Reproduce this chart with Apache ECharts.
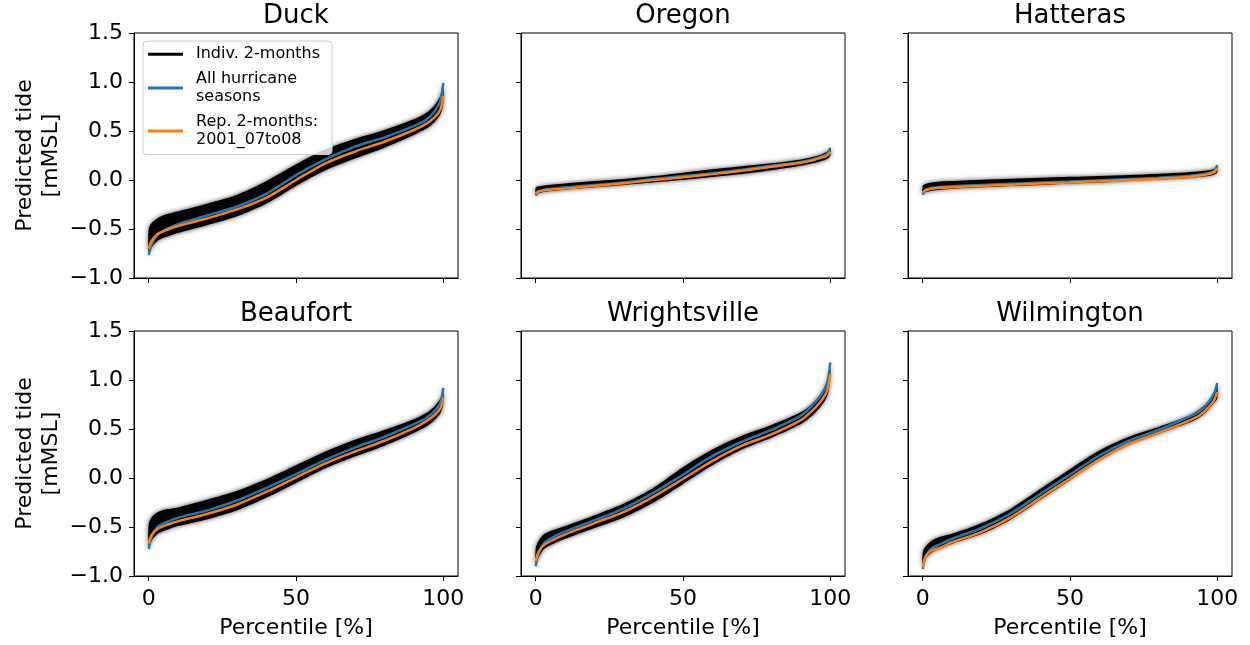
<!DOCTYPE html>
<html>
<head>
<meta charset="utf-8">
<script src="https://cdn.jsdelivr.net/npm/echarts@6/dist/echarts.min.js"></script>
<style>
  html, body { margin: 0; padding: 0; background: #fff; }
  #chart { width: 1250px; height: 645px; }
</style>
</head>
<body>
<div id="chart"></div>
<script>
// Percentile positions at which every curve is sampled
const percentiles = [0, 1, 3, 6, 10, 20, 30, 40, 50, 60, 70, 80, 90, 94, 97, 99, 100];

const stationNames = ['Duck', 'Oregon', 'Hatteras', 'Beaufort', 'Wrightsville', 'Wilmington'];

// Predicted tide [m MSL] per station:
//   *All = all hurricane seasons, *Rep = representative 2-month window,
//   *Hi / *Lo = upper / lower envelope of the individual 2-month curves
const duckAll = [-0.765, -0.66, -0.56, -0.50, -0.45, -0.36, -0.27, -0.14, 0.05, 0.21, 0.34, 0.435, 0.55, 0.61, 0.70, 0.81, 0.99];
const duckRep = [-0.70, -0.62, -0.55, -0.51, -0.47, -0.39, -0.30, -0.18, 0.00, 0.17, 0.29, 0.39, 0.51, 0.57, 0.64, 0.72, 0.86];
const duckHi  = [-0.50, -0.44, -0.39, -0.35, -0.32, -0.24, -0.15, -0.01, 0.16, 0.31, 0.42, 0.51, 0.62, 0.68, 0.76, 0.86, 0.98];
const duckLo  = [-0.76, -0.69, -0.62, -0.58, -0.54, -0.46, -0.37, -0.24, -0.06, 0.10, 0.22, 0.33, 0.46, 0.52, 0.59, 0.67, 0.78];

const oregonAll = [-0.16, -0.12, -0.10, -0.09, -0.075, -0.05, -0.025, 0.01, 0.04, 0.07, 0.105, 0.145, 0.185, 0.21, 0.24, 0.27, 0.33];
const oregonRep = [-0.14, -0.115, -0.105, -0.095, -0.088, -0.06, -0.034, 0.0, 0.027, 0.06, 0.095, 0.135, 0.176, 0.20, 0.23, 0.25, 0.29];
const oregonHi  = [-0.08, -0.065, -0.055, -0.045, -0.035, -0.01, 0.01, 0.04, 0.075, 0.11, 0.14, 0.17, 0.21, 0.235, 0.26, 0.29, 0.32];
const oregonLo  = [-0.15, -0.135, -0.12, -0.11, -0.10, -0.075, -0.05, -0.025, 0.0, 0.03, 0.06, 0.10, 0.145, 0.17, 0.195, 0.215, 0.25];

const hatterasAll = [-0.15, -0.10, -0.08, -0.07, -0.063, -0.05, -0.038, -0.026, -0.015, -0.003, 0.01, 0.023, 0.04, 0.055, 0.07, 0.095, 0.15];
const hatterasRep = [-0.13, -0.105, -0.09, -0.08, -0.073, -0.06, -0.048, -0.036, -0.025, -0.013, 0.0, 0.013, 0.03, 0.045, 0.06, 0.08, 0.12];
const hatterasHi  = [-0.06, -0.04, -0.025, -0.015, -0.01, 0.002, 0.012, 0.022, 0.032, 0.042, 0.052, 0.065, 0.08, 0.09, 0.10, 0.115, 0.14];
const hatterasLo  = [-0.14, -0.125, -0.11, -0.10, -0.09, -0.075, -0.06, -0.05, -0.035, -0.025, -0.01, 0.005, 0.02, 0.03, 0.04, 0.055, 0.08];

const beaufortAll = [-0.725, -0.60, -0.50, -0.45, -0.405, -0.33, -0.23, -0.10, 0.04, 0.185, 0.31, 0.42, 0.55, 0.61, 0.68, 0.77, 0.92];
const beaufortRep = [-0.67, -0.58, -0.52, -0.48, -0.44, -0.365, -0.27, -0.14, 0.005, 0.15, 0.27, 0.38, 0.51, 0.575, 0.64, 0.71, 0.82];
const beaufortHi  = [-0.47, -0.40, -0.35, -0.32, -0.30, -0.22, -0.13, -0.01, 0.13, 0.27, 0.39, 0.49, 0.60, 0.66, 0.73, 0.81, 0.91];
const beaufortLo  = [-0.72, -0.64, -0.57, -0.53, -0.49, -0.42, -0.33, -0.20, -0.05, 0.10, 0.22, 0.33, 0.46, 0.52, 0.59, 0.66, 0.76];

const wrightsvilleAll = [-0.90, -0.77, -0.66, -0.60, -0.545, -0.43, -0.31, -0.15, 0.035, 0.225, 0.37, 0.49, 0.636, 0.745, 0.85, 0.98, 1.18];
const wrightsvilleRep = [-0.85, -0.75, -0.68, -0.63, -0.575, -0.46, -0.345, -0.19, -0.01, 0.175, 0.33, 0.445, 0.59, 0.69, 0.79, 0.90, 1.06];
const wrightsvilleHi  = [-0.72, -0.64, -0.57, -0.53, -0.49, -0.38, -0.26, -0.10, 0.11, 0.29, 0.43, 0.54, 0.67, 0.76, 0.87, 0.99, 1.17];
const wrightsvilleLo  = [-0.89, -0.81, -0.72, -0.67, -0.62, -0.51, -0.40, -0.25, -0.06, 0.13, 0.29, 0.41, 0.55, 0.64, 0.74, 0.84, 1.01];

const wilmingtonAll = [-0.93, -0.80, -0.72, -0.675, -0.62, -0.51, -0.36, -0.16, 0.035, 0.23, 0.38, 0.49, 0.62, 0.68, 0.77, 0.87, 0.97];
const wilmingtonRep = [-0.91, -0.80, -0.74, -0.71, -0.655, -0.55, -0.40, -0.20, -0.005, 0.19, 0.35, 0.46, 0.58, 0.64, 0.72, 0.80, 0.88];
const wilmingtonHi  = [-0.76, -0.70, -0.64, -0.60, -0.57, -0.46, -0.31, -0.11, 0.09, 0.28, 0.42, 0.52, 0.63, 0.70, 0.78, 0.86, 0.96];
const wilmingtonLo  = [-0.92, -0.82, -0.76, -0.72, -0.67, -0.57, -0.42, -0.22, -0.02, 0.18, 0.34, 0.45, 0.56, 0.62, 0.70, 0.77, 0.81];

const xTicks = [0, 50, 100];
const yTickStep = 0.5;

const seriesNames = ['Indiv. 2-months', 'All hurricane\nseasons', 'Rep. 2-months:\n2001_07to08'];

const panels = [
  { all: duckAll, rep: duckRep, hi: duckHi, lo: duckLo },
  { all: oregonAll, rep: oregonRep, hi: oregonHi, lo: oregonLo },
  { all: hatterasAll, rep: hatterasRep, hi: hatterasHi, lo: hatterasLo },
  { all: beaufortAll, rep: beaufortRep, hi: beaufortHi, lo: beaufortLo },
  { all: wrightsvilleAll, rep: wrightsvilleRep, hi: wrightsvilleHi, lo: wrightsvilleLo },
  { all: wilmingtonAll, rep: wilmingtonRep, hi: wilmingtonHi, lo: wilmingtonLo }
];

// Layout
const FONT = 'DejaVu Sans';
const COL_LEFT = [134, 521, 908];
const ROW_TOP = [33, 331];
const PLOT_W = 324;
const PLOT_H = 245;
const BLUE = '#1f77b4';
const ORANGE = '#ff7f0e';

function fmtTick(v) {
  return (v < 0 ? '\u2212' : '') + Math.abs(v).toFixed(1);
}

// Filled envelope of the individual curves, drawn as one soft-edged polygon
function bandRenderer(hi, lo) {
  return function (params, api) {
    if (params.dataIndex !== 0) return null;
    const pts = [];
    for (let k = 0; k < percentiles.length; k++) pts.push(api.coord([percentiles[k], hi[k]]));
    for (let k = percentiles.length - 1; k >= 0; k--) pts.push(api.coord([percentiles[k], lo[k]]));
    return {
      type: 'polygon',
      shape: { points: pts, smooth: 0.3 },
      style: { fill: '#000', shadowBlur: 5, shadowColor: 'rgba(0,0,0,0.7)' }
    };
  };
}

const grids = [], xAxes = [], yAxes = [], titles = [], series = [];

panels.forEach(function (p, i) {
  const row = Math.floor(i / 3), col = i % 3;
  const left = COL_LEFT[col], top = ROW_TOP[row];

  grids.push({ left: left, top: top, width: PLOT_W, height: PLOT_H,
    show: true, borderColor: '#000', borderWidth: 1, backgroundColor: 'transparent' });

  titles.push({
    text: stationNames[i], left: left + PLOT_W / 2, top: top - 30, textAlign: 'center', padding: 0,
    textStyle: { fontFamily: FONT, fontSize: 26, fontWeight: 'normal', color: '#000' }
  });

  xAxes.push({
    type: 'value', gridIndex: i, min: -5, max: 105,
    axisLine: { show: true, onZero: false, lineStyle: { color: '#000', width: 1 } },
    axisTick: { show: true, customValues: xTicks, length: 5, lineStyle: { color: '#000', width: 1 } },
    axisLabel: { show: row === 1, customValues: xTicks, fontFamily: FONT, fontSize: 22, color: '#000', margin: 12 },
    splitLine: { show: false },
    name: row === 1 ? 'Percentile [%]' : '',
    nameLocation: 'middle', nameGap: 41,
    nameTextStyle: { fontFamily: FONT, fontSize: 22, color: '#000' }
  });

  yAxes.push({
    type: 'value', gridIndex: i, min: -1, max: 1.5, interval: yTickStep,
    axisLine: { show: true, onZero: false, lineStyle: { color: '#000', width: 1 } },
    axisTick: { show: true, length: 5, lineStyle: { color: '#000', width: 1 } },
    axisLabel: { show: col === 0, formatter: fmtTick, fontFamily: FONT, fontSize: 22, color: '#000', margin: 11 },
    splitLine: { show: false },
    name: col === 0 ? 'Predicted tide\n[mMSL]' : '',
    nameLocation: 'middle', nameGap: 70, nameRotate: 90,
    nameTextStyle: { fontFamily: FONT, fontSize: 22, color: '#000', lineHeight: 26 }
  });

  series.push({
    type: 'custom', name: seriesNames[0], xAxisIndex: i, yAxisIndex: i,
    data: percentiles.map(function (pc, k) { return [pc, p.hi[k], p.lo[k]]; }),
    encode: { x: 0, y: [1, 2] },
    renderItem: bandRenderer(p.hi, p.lo),
    itemStyle: { color: '#000' },
    clip: true, z: 2, silent: true
  });

  series.push({
    type: 'line', name: seriesNames[1], xAxisIndex: i, yAxisIndex: i,
    data: percentiles.map(function (pc, k) { return [pc, p.all[k]]; }),
    showSymbol: false, smooth: 0.3, z: 3, silent: true,
    itemStyle: { color: BLUE }, lineStyle: { color: BLUE, width: 2.5 }
  });

  series.push({
    type: 'line', name: seriesNames[2], xAxisIndex: i, yAxisIndex: i,
    data: percentiles.map(function (pc, k) { return [pc, p.rep[k]]; }),
    showSymbol: false, smooth: 0.3, z: 4, silent: true,
    itemStyle: { color: ORANGE }, lineStyle: { color: ORANGE, width: 2.5 }
  });
});

const chart = echarts.init(document.getElementById('chart'), null, { renderer: 'canvas' });
chart.setOption({
  animation: false,
  backgroundColor: '#fff',
  title: titles,
  grid: grids,
  xAxis: xAxes,
  yAxis: yAxes,
  legend: {
    orient: 'vertical', left: 143, top: 41,
    padding: [4, 12, 5, 5], itemGap: 6, itemWidth: 35, itemHeight: 3, icon: 'rect',
    backgroundColor: 'rgba(255,255,255,0.8)', borderColor: '#cccccc', borderWidth: 1, borderRadius: 4,
    textStyle: { fontFamily: FONT, fontSize: 16, color: '#000', lineHeight: 18.5, padding: [0, 0, 0, 8] },
    selectedMode: false,
    data: seriesNames
  },
  series: series
});
</script>
</body>
</html>
